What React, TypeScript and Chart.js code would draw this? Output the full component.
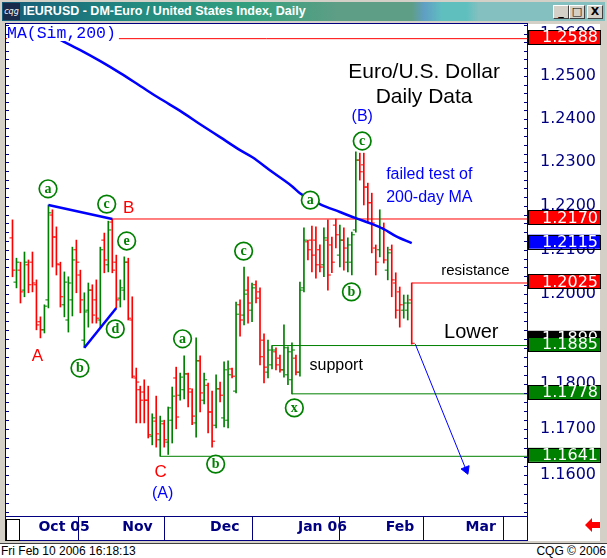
import React, { useEffect, useRef } from 'react';
import { Chart, registerables } from 'chart.js';

Chart.register(...registerables);

// ---------- data ----------
const FIRST_DAY = '2005-09-23';

const opens = [
  1.2127, 1.2027, 1.2054, 1.2009, 1.2066, 1.2072, 1.2021, 1.1938, 1.1920, 1.1987,
  1.2179, 1.2129, 1.2066, 1.1976, 1.1942, 1.1987, 1.2100, 1.2043, 1.1897, 1.1964,
  1.2009, 1.1987, 1.1942, 1.2122, 1.2066, 1.2163, 1.2072, 1.1991, 1.2009, 1.2072,
  1.1942, 1.1813, 1.1787, 1.1782, 1.1764, 1.1685, 1.1718, 1.1677, 1.1712, 1.1672,
  1.1720, 1.1813, 1.1775, 1.1787, 1.1822, 1.1782, 1.1714, 1.1851, 1.1764, 1.1797,
  1.1738, 1.1709, 1.1789, 1.1725, 1.1720, 1.1833, 1.1784, 1.1976, 1.1953, 1.2009,
  1.1964, 1.2021, 1.2005, 1.1897, 1.1826, 1.1842, 1.1871, 1.1857, 1.1831, 1.1820,
  1.1809, 1.1857, 1.1826, 1.2014, 1.2118, 1.2122, 1.2122, 1.2100, 1.2066, 1.2122,
  1.2111, 1.2156, 1.2088, 1.2122, 1.2072, 1.2072, 1.2145, 1.2305, 1.2294, 1.2243,
  1.2207, 1.2104, 1.2100, 1.2150, 1.2054, 1.2100, 1.2025, 1.2005, 1.1964, 1.1964,
  1.1987,
];
const highs = [
  1.2168, 1.2081, 1.2072, 1.2095, 1.2077, 1.2095, 1.2032, 1.1949, 1.1976, 1.2202,
  1.2191, 1.2152, 1.2072, 1.2050, 1.2039, 1.2106, 1.2122, 1.2054, 1.2003, 1.2025,
  1.2021, 1.2032, 1.2106, 1.2138, 1.2165, 1.2170, 1.2088, 1.2032, 1.2084, 1.2081,
  1.1994, 1.1835, 1.1795, 1.1809, 1.1795, 1.1734, 1.1773, 1.1729, 1.1720, 1.1749,
  1.1793, 1.1837, 1.1824, 1.1862, 1.1824, 1.1789, 1.1902, 1.1862, 1.1824, 1.1802,
  1.1784, 1.1820, 1.1804, 1.1849, 1.1851, 1.1835, 1.1982, 1.1987, 1.2061, 1.2039,
  1.2025, 1.2030, 1.2014, 1.1911, 1.1897, 1.1885, 1.1880, 1.1864, 1.1931, 1.1882,
  1.1891, 1.1864, 1.2027, 1.2150, 1.2122, 1.2154, 1.2152, 1.2111, 1.2150, 1.2168,
  1.2129, 1.2170, 1.2156, 1.2150, 1.2127, 1.2140, 1.2324, 1.2321, 1.2321, 1.2252,
  1.2229, 1.2111, 1.2191, 1.2161, 1.2106, 1.2111, 1.2048, 1.2016, 1.1998, 1.1998,
  1.2025,
];
const lows = [
  1.2039, 1.2014, 1.1980, 1.1994, 1.2003, 1.2005, 1.1920, 1.1902, 1.1913, 1.1969,
  1.2061, 1.2043, 1.1971, 1.1949, 1.1915, 1.1951, 1.2003, 1.1958, 1.1880, 1.1926,
  1.1935, 1.1935, 1.1926, 1.2048, 1.2050, 1.2048, 1.1969, 1.1971, 1.1987, 1.1942,
  1.1813, 1.1714, 1.1714, 1.1714, 1.1681, 1.1666, 1.1661, 1.1641, 1.1661, 1.1645,
  1.1670, 1.1701, 1.1764, 1.1767, 1.1749, 1.1710, 1.1683, 1.1738, 1.1756, 1.1692,
  1.1661, 1.1703, 1.1760, 1.1705, 1.1703, 1.1813, 1.1780, 1.1906, 1.1931, 1.1935,
  1.1938, 1.1980, 1.1842, 1.1802, 1.1813, 1.1833, 1.1831, 1.1826, 1.1815, 1.1798,
  1.1778, 1.1820, 1.1817, 1.2005, 1.2077, 1.2050, 1.2036, 1.2050, 1.2039, 1.2009,
  1.2048, 1.2104, 1.2061, 1.2054, 1.2050, 1.2043, 1.2140, 1.2259, 1.2202, 1.2163,
  1.2093, 1.2043, 1.2084, 1.2070, 1.2032, 1.1994, 1.1946, 1.1926, 1.1946, 1.1942,
  1.1888,
];
const closes = [
  1.2054, 1.2072, 1.2005, 1.2072, 1.2021, 1.2025, 1.1931, 1.1920, 1.1973, 1.2184,
  1.2129, 1.2068, 1.1994, 1.2027, 1.2025, 1.2077, 1.2072, 1.1987, 1.1960, 1.2009,
  1.1953, 1.1946, 1.2100, 1.2077, 1.2145, 1.2054, 1.1987, 1.2014, 1.2072, 1.1946,
  1.1817, 1.1804, 1.1764, 1.1764, 1.1688, 1.1725, 1.1690, 1.1718, 1.1677, 1.1747,
  1.1773, 1.1727, 1.1815, 1.1822, 1.1789, 1.1729, 1.1851, 1.1780, 1.1809, 1.1738,
  1.1674, 1.1789, 1.1775, 1.1831, 1.1820, 1.1817, 1.1955, 1.1942, 1.2000, 1.1980,
  1.2014, 1.1991, 1.1860, 1.1837, 1.1875, 1.1875, 1.1842, 1.1831, 1.1880, 1.1871,
  1.1875, 1.1826, 1.2009, 1.2122, 1.2100, 1.2088, 1.2066, 1.2061, 1.2127, 1.2043,
  1.2072, 1.2134, 1.2122, 1.2104, 1.2111, 1.2134, 1.2305, 1.2278, 1.2243, 1.2207,
  1.2161, 1.2072, 1.2150, 1.2077, 1.2093, 1.2032, 1.1964, 1.1976, 1.1980, 1.1980,
  1.1890,
];

// 200-day simple moving average, read at selected bars
const maDays = [12, 17, 22, 27, 32, 37, 42, 47, 52, 57, 60, 65, 70, 72, 77, 82, 86, 90, 93, 96, 100];
const maValues = [
  1.2585, 1.2561, 1.2535, 1.2507, 1.2477, 1.2447, 1.2419, 1.2388, 1.2358, 1.2328,
  1.2312, 1.2278, 1.2245, 1.2229, 1.2204, 1.2186, 1.2172, 1.2159, 1.2147, 1.2131, 1.2115,
];

const monthLabels = ['Oct 05', 'Nov', 'Dec', 'Jan 06', 'Feb', 'Mar'];
const priceTicks = [1.16, 1.17, 1.18, 1.19, 1.2, 1.21, 1.22, 1.23, 1.24, 1.25, 1.26];

// horizontal support / resistance levels (price, start bar)
const levelPrices = [1.2588, 1.2170, 1.2025, 1.1885, 1.1778, 1.1641];
const levelStarts = [-3, 25, 100, 65, 70, 37];
const levelColors = ['#ff0000', '#ff0000', '#ff0000', '#008000', '#008000', '#008000'];

// price flags on the right scale
const flagPrices = [1.1890, 1.2588, 1.2170, 1.2115, 1.2025, 1.1885, 1.1778, 1.1641];
const flagColors = ['#000000', '#ff0000', '#ff0000', '#0000ff', '#ff0000', '#008000', '#008000', '#008000'];

// wave trend lines
const trendA = [{ x: 9, y: 1.2202 }, { x: 25, y: 1.2170 }];
const trendB = [{ x: 18, y: 1.1880 }, { x: 26, y: 1.1969 }];
const arrowPath = [{ x: 100.9, y: 1.1888 }, { x: 113.6, y: 1.1612 }];

// circled wave labels
const circleText = ['a', 'c', 'e', 'd', 'b', 'a', 'b', 'c', 'x', 'a', 'b', 'c'];
const circleDay = [8.9, 23.6, 28.6, 25.75, 16.9, 42.6, 50.9, 57.9, 70.6, 74.6, 84.9, 87.6];
const circlePrice = [1.2239, 1.2204, 1.2120, 1.1922, 1.1835, 1.1900, 1.1624, 1.2097, 1.1747, 1.2213, 1.2005, 1.2349];

// other text notes
const noteText = ['A', 'B', 'C', '(A)', '(B)', 'Euro/U.S. Dollar', 'Daily Data', 'failed test of', '200-day MA', 'resistance', 'Lower', 'support'];
const noteDay = [6.25, 29.1, 37.1, 37.6, 87.6, 103.1, 103.1, 93.6, 93.6, 107.4, 108.1, 74.4];
const notePrice = [1.1862, 1.2195, 1.1607, 1.1560, 1.2405, 1.2510, 1.2451, 1.2271, 1.2220, 1.2052, 1.1914, 1.1840];
const noteColor = ['#ff0000', '#ff0000', '#ff0000', '#0000ff', '#0000ff', '#000000', '#000000', '#0000ff', '#0000ff', '#000000', '#000000', '#000000'];
const noteSize = [17, 17, 17, 16, 16, 21, 21, 16, 16, 15, 20, 16];
const noteAlign = ['center', 'center', 'center', 'center', 'center', 'center', 'center', 'left', 'left', 'left', 'left', 'left'];

// ---------- helpers ----------
function weekdays(start: string, n: number): Date[] {
  const out: Date[] = [];
  const d = new Date(start + 'T00:00:00Z');
  while (out.length < n) {
    const wd = d.getUTCDay();
    if (wd !== 0 && wd !== 6) out.push(new Date(d.getTime()));
    d.setUTCDate(d.getUTCDate() + 1);
  }
  return out;
}

const X_MIN = -1.625;
const X_MAX = 128.875;
const days = weekdays(FIRST_DAY, 140);
const monthStarts: number[] = [];
days.forEach((d, i) => {
  if (i > 0 && d.getUTCMonth() !== days[i - 1].getUTCMonth() && i <= X_MAX) monthStarts.push(i);
});

const GREEN = '#008000';
const RED = '#ff0000';
const NAVY = '#000080';

const barColors = closes.map((c, i) => (c >= opens[i] ? GREEN : RED));

const decor = {
  id: 'decor',
  beforeDraw(chart: any) {
    const { ctx, chartArea: a } = chart;
    ctx.save();
    ctx.fillStyle = '#ffffff';
    ctx.fillRect(a.left, a.top, 600 - a.left, 541 - a.top);
    ctx.restore();
  },
  afterDatasetsDraw(chart: any) {
    const { ctx, chartArea: a } = chart;
    const xs = chart.scales.x;
    const ys = chart.scales.y;
    ctx.save();
    // MA legend label
    ctx.font = '16.5px "Liberation Mono", monospace';
    ctx.textBaseline = 'middle';
    ctx.textAlign = 'left';
    const lw = ctx.measureText('MA(Sim,200)').width;
    ctx.fillStyle = '#ffffff';
    ctx.fillRect(a.left + 1, a.top + 1, lw + 3, 16);
    ctx.fillStyle = '#0000ff';
    ctx.fillText('MA(Sim,200)', a.left + 1, a.top + 10);

    // circled labels
    circleText.forEach((t, i) => {
      const x = xs.getPixelForValue(circleDay[i]);
      const y = ys.getPixelForValue(circlePrice[i]);
      ctx.beginPath();
      ctx.arc(x, y, 8.8, 0, Math.PI * 2);
      ctx.fillStyle = '#ffffff';
      ctx.fill();
      ctx.lineWidth = 1.7;
      ctx.strokeStyle = GREEN;
      ctx.stroke();
      ctx.fillStyle = GREEN;
      ctx.font = 'bold 14px "Liberation Serif", serif';
      ctx.textAlign = 'center';
      ctx.textBaseline = 'middle';
      ctx.fillText(t, x, y + 0.5);
    });

    // notes
    noteText.forEach((t, i) => {
      const x = xs.getPixelForValue(noteDay[i]);
      const y = ys.getPixelForValue(notePrice[i]);
      ctx.font = noteSize[i] + 'px "Liberation Sans", Arial, sans-serif';
      ctx.fillStyle = noteColor[i];
      ctx.textAlign = noteAlign[i] as CanvasTextAlign;
      ctx.textBaseline = 'middle';
      ctx.fillText(t, x, y);
    });
    ctx.restore();
  },
  afterDraw(chart: any) {
    const { ctx, chartArea: a } = chart;
    const ys = chart.scales.y;
    ctx.save();
    // inner tick marks along left and right border
    ctx.strokeStyle = NAVY;
    ctx.lineWidth = 1;
    for (let p = 1.152; p < 1.263; p += 0.002) {
      const y = Math.round(ys.getPixelForValue(p)) + 0.5;
      if (y < a.top || y > a.bottom) continue;
      ctx.beginPath();
      ctx.moveTo(a.right - 3, y);
      ctx.lineTo(a.right, y);
      ctx.moveTo(a.left, y);
      ctx.lineTo(a.left + 3, y);
      ctx.stroke();
    }
    // frame
    ctx.strokeStyle = NAVY;
    ctx.lineWidth = 1;
    ctx.strokeRect(a.left - 0.5, a.top - 0.5, a.right - a.left + 1, a.bottom - a.top + 1);
    ctx.strokeRect(a.left - 0.5, a.top - 0.5, a.right - a.left + 1, 541 - a.top);
    // small box at bottom left
    ctx.strokeStyle = '#000000';
    ctx.strokeRect(a.left + 0.5, a.bottom + 3.5, 13, 21);

    // price flags
    ctx.font = '16px "DejaVu Sans", sans-serif';
    ctx.textAlign = 'right';
    ctx.textBaseline = 'middle';
    flagPrices.forEach((p, i) => {
      let y = ys.getPixelForValue(p) - 1.5;
      if (i === 0) y -= 4;
      ctx.fillStyle = flagColors[i];
      ctx.fillRect(a.right + 1, y - 7, 72, 14);
      ctx.strokeStyle = '#000000';
      ctx.strokeRect(a.right + 1.5, Math.round(y - 7) + 0.5, 72, 14);
      ctx.fillStyle = '#ffffff';
      ctx.fillText(p.toFixed(4), a.right + 71, y + 1);
    });

    // red arrow icon bottom right
    ctx.fillStyle = '#ff0000';
    ctx.beginPath();
    ctx.moveTo(585, 525);
    ctx.lineTo(592, 518);
    ctx.lineTo(592, 522);
    ctx.lineTo(600, 522);
    ctx.lineTo(600, 528);
    ctx.lineTo(592, 528);
    ctx.lineTo(592, 532);
    ctx.closePath();
    ctx.fill();
    ctx.restore();
  },
};

export default function App() {
  const ref = useRef<HTMLCanvasElement>(null);
  useEffect(() => {
    document.body.style.margin = '0';
    const levelSets = levelPrices.map((p, i) => ({
      type: 'line' as const,
      data: [{ x: levelStarts[i], y: p }, { x: 135, y: p }],
      borderColor: levelColors[i],
      borderWidth: 1,
      pointRadius: 0,
      order: 5,
    }));
    const chart = new Chart(ref.current as HTMLCanvasElement, {
      type: 'bar',
      data: {
        datasets: [
          ...levelSets,
          {
            type: 'bar' as const,
            data: highs.map((h, i) => ({ x: i, y: [lows[i], h] })) as any,
            backgroundColor: barColors,
            borderWidth: 0,
            barThickness: 1,
            order: 3,
          } as any,
          {
            type: 'line' as const,
            data: opens.map((o, i) => ({ x: i, y: o })),
            showLine: false,
            pointStyle: 'dash',
            pointRadius: 3,
            pointRotation: 180,
            pointBorderWidth: 1,
            pointBorderColor: barColors,
            pointBackgroundColor: barColors,
            order: 2,
          },
          {
            type: 'line' as const,
            data: closes.map((c, i) => ({ x: i, y: c })),
            showLine: false,
            pointStyle: 'dash',
            pointRadius: 3,
            pointRotation: 0,
            pointBorderWidth: 1,
            pointBorderColor: barColors,
            pointBackgroundColor: barColors,
            order: 2,
          },
          {
            type: 'line' as const,
            data: maDays.map((d, i) => ({ x: d, y: maValues[i] })),
            borderColor: '#0000ff',
            borderWidth: 2.5,
            pointRadius: 0,
            cubicInterpolationMode: 'monotone',
            order: 1,
          },
          {
            type: 'line' as const,
            data: trendA,
            borderColor: '#0000ff',
            borderWidth: 2.5,
            pointRadius: 0,
            order: 1,
          },
          {
            type: 'line' as const,
            data: trendB,
            borderColor: '#0000ff',
            borderWidth: 2.5,
            pointRadius: 0,
            order: 1,
          },
          {
            type: 'line' as const,
            data: arrowPath,
            borderColor: '#0000ff',
            borderWidth: 1,
            pointStyle: 'triangle',
            pointRadius: [0, 5],
            pointRotation: [0, 158],
            pointBackgroundColor: '#0000ff',
            pointBorderColor: '#0000ff',
            pointBorderWidth: 1,
            order: 1,
          } as any,
        ],
      },
      options: {
        animation: false,
        responsive: false,
        events: [],
        layout: { padding: { left: 5, top: 24, right: 0, bottom: 17 } },
        plugins: { legend: { display: false }, tooltip: { enabled: false } },
        scales: {
          x: {
            type: 'linear',
            min: X_MIN,
            max: X_MAX,
            bounds: 'data',
            offset: false,
            afterFit: (s: any) => { s.height = 25; },
            afterBuildTicks: (s: any) => { s.ticks = monthStarts.map((v) => ({ value: v })); },
            grid: { drawOnChartArea: false, drawTicks: true, tickLength: 25, color: NAVY, lineWidth: 1 },
            border: { display: false },
            ticks: {
              autoSkip: false,
              maxRotation: 0,
              align: 'start',
              padding: -22,
              labelOffset: 2,
              color: NAVY,
              font: { family: '"DejaVu Sans", sans-serif', size: 14, weight: 'bold' },
              callback: (v: any) => {
                const idx = monthStarts.indexOf(Number(v));
                return idx >= 0 ? monthLabels[idx] : '';
              },
            },
          },
          y: {
            type: 'logarithmic',
            position: 'right',
            min: 1.15116,
            max: 1.26226,
            bounds: 'data',
            afterFit: (s: any) => { s.width = 80; },
            afterBuildTicks: (s: any) => { s.ticks = priceTicks.map((v) => ({ value: v })); },
            grid: { display: false, drawTicks: false },
            border: { display: false },
            ticks: {
              padding: 13,
              color: NAVY,
              font: { family: '"DejaVu Sans", sans-serif', size: 16 },
              callback: (v: any) => Number(v).toFixed(4),
            },
          },
        },
      },
      plugins: [decor],
    } as any);
    return () => chart.destroy();
  }, []);

  const btn: React.CSSProperties = {
    position: 'absolute', top: 3, width: 16, height: 14, background: '#d4d0c8',
    borderTop: '1px solid #ffffff', borderLeft: '1px solid #ffffff',
    borderRight: '1px solid #404040', borderBottom: '1px solid #404040',
    boxSizing: 'border-box', fontFamily: '"DejaVu Sans", sans-serif', fontSize: 11,
    fontWeight: 'bold', lineHeight: '12px', textAlign: 'center', color: '#000',
  };

  return (
    <div style={{ position: 'fixed', left: 0, top: 0, width: 607, height: 558, background: '#d4d0c8', overflow: 'hidden' }}>
      <canvas ref={ref} width={607} height={558} style={{ position: 'absolute', left: 0, top: 0, width: 607, height: 558 }} />
      <div style={{
        position: 'absolute', left: 2, top: 2, width: 603, height: 19,
        background: 'linear-gradient(to right, #155a78 0%, #238a80 22%, #35a07e 42%, #5f9e86 56%, #5f9e86 68%, #5f9fc4 70%, #5fbfbf 73%, #5fbfbf 77%, #84c0c0 79%, #84c0c0 100%)',
      }}>
        <div style={{ position: 'absolute', left: 1, top: 1, width: 17, height: 17, background: '#1a2a4a', color: '#fff', fontSize: 8, lineHeight: '17px', textAlign: 'center', fontFamily: '"DejaVu Sans", sans-serif', fontStyle: 'italic' }}>cqg</div>
        <div style={{ position: 'absolute', left: 21, top: 0, lineHeight: '19px', color: '#ffffff', fontWeight: 'bold', fontSize: 12.5, fontFamily: '"Liberation Sans", Arial, sans-serif', whiteSpace: 'nowrap' }}>
          IEURUSD - DM-Euro / United States Index, Daily
        </div>
        <div style={{ ...btn, left: 551 }}>_</div>
        <div style={{ ...btn, left: 567 }}>□</div>
        <div style={{ ...btn, left: 585 }}>X</div>
      </div>
      <div style={{ position: 'absolute', left: 0, top: 543, width: 607, height: 15, background: '#ffffff', borderTop: '1px solid #404040', boxSizing: 'border-box' }}>
        <span style={{ position: 'absolute', left: 1, top: 0, fontSize: 12, lineHeight: '14px', fontFamily: '"Liberation Sans", Arial, sans-serif', color: '#000' }}>Fri Feb 10 2006 16:18:13</span>
        <span style={{ position: 'absolute', right: 1, top: 0, fontSize: 12, lineHeight: '14px', fontFamily: '"Liberation Sans", Arial, sans-serif', color: '#000' }}>CQG © 2006</span>
      </div>
    </div>
  );
}
